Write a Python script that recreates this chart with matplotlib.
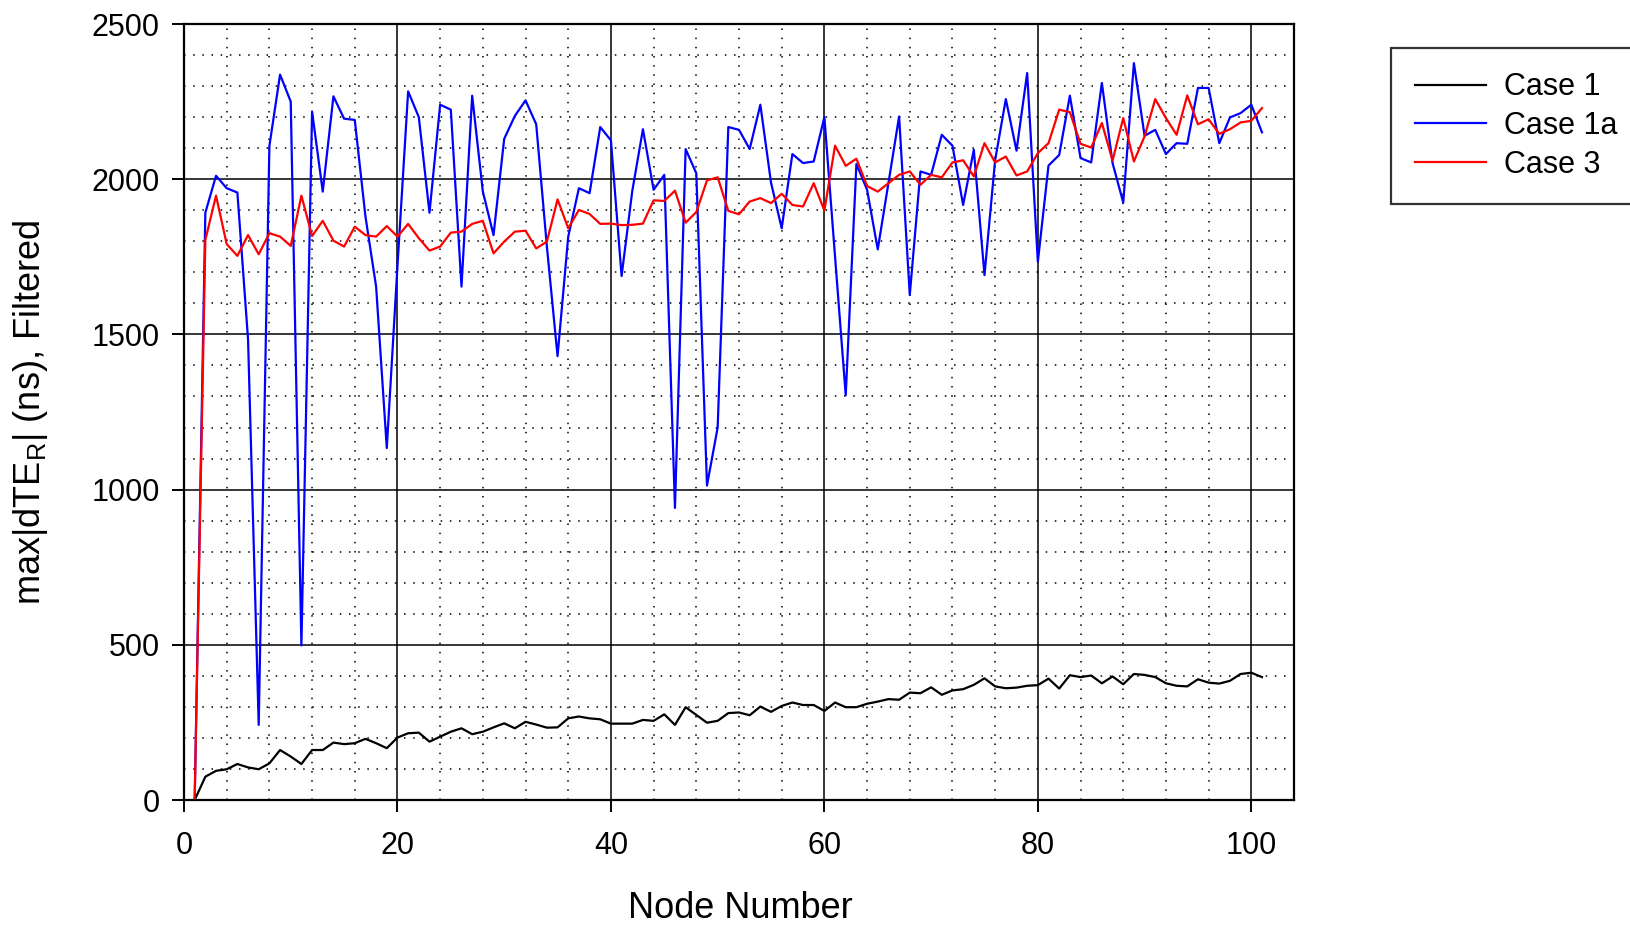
import numpy as np
import matplotlib.pyplot as plt
from matplotlib.ticker import MultipleLocator

plt.rcParams['font.family'] = ['Liberation Sans', 'DejaVu Sans']
plt.rcParams['mathtext.fontset'] = 'custom'
plt.rcParams['mathtext.rm'] = 'Liberation Sans'

nodes = np.arange(1, 102)

# Case 1 - black
case1 = [0, 75, 94, 99, 116, 105, 99, 118, 161, 140,
         116, 161, 161, 185, 180, 183, 197, 183, 167, 201,
         215, 217, 188, 204, 220, 231, 212, 220, 234, 247,
         231, 252, 243, 233, 234, 263, 269, 263, 260, 246,
         246, 246, 258, 255, 276, 242, 299, 274, 249, 255,
         280, 282, 273, 301, 284, 303, 314, 306, 306, 287,
         314, 299, 299, 310, 317, 325, 323, 346, 344, 363,
         339, 353, 357, 371, 392, 366, 360, 362, 368, 370,
         391, 359, 402, 396, 401, 376, 398, 373, 406, 403,
         396, 376, 368, 366, 389, 378, 375, 384, 406, 410,
         396]

# Case 1a - blue
case1a = [0, 1892, 2011, 1971, 1957, 1485, 242, 2107, 2337, 2250,
          498, 2218, 1960, 2267, 2195, 2191, 1880, 1654, 1134, 1720,
          2283, 2200, 1892, 2240, 2224, 1654, 2269, 1960, 1820, 2130,
          2204, 2254, 2177, 1783, 1430, 1815, 1971, 1955, 2168, 2125,
          1688, 1962, 2161, 1966, 2014, 941, 2097, 2019, 1013, 1200,
          2168, 2159, 2097, 2240, 1989, 1842, 2081, 2052, 2057, 2200,
          1750, 1304, 2049, 1966, 1774, 1987, 2202, 1627, 2025, 2014,
          2143, 2108, 1917, 2095, 1691, 2062, 2258, 2092, 2342, 1734,
          2044, 2078, 2269, 2068, 2054, 2310, 2052, 1925, 2374, 2140,
          2159, 2081, 2116, 2114, 2294, 2294, 2116, 2199, 2213, 2240,
          2151]

# Case 3 - red
case3 = [0, 1804, 1947, 1791, 1753, 1820, 1758, 1826, 1815, 1785,
         1947, 1817, 1866, 1802, 1783, 1847, 1820, 1815, 1849, 1815,
         1856, 1810, 1770, 1783, 1828, 1831, 1856, 1866, 1761, 1799,
         1831, 1834, 1777, 1799, 1935, 1842, 1901, 1888, 1856, 1857,
         1852, 1853, 1857, 1932, 1930, 1963, 1860, 1894, 1996, 2006,
         1898, 1887, 1928, 1939, 1923, 1953, 1917, 1912, 1987, 1899,
         2108, 2043, 2066, 1978, 1960, 1987, 2014, 2025, 1982, 2014,
         2006, 2054, 2061, 2009, 2116, 2054, 2073, 2012, 2025, 2084,
         2116, 2224, 2216, 2114, 2102, 2181, 2060, 2197, 2057, 2138,
         2258, 2197, 2143, 2270, 2177, 2193, 2146, 2161, 2183, 2188,
         2229]

fig = plt.figure(figsize=(16.31, 9.25), dpi=100)
ax = fig.add_axes([184/1631, 1 - 800/925, 1110/1631, 776/925])

ax.plot(nodes, case1, color='black', lw=1.6, label='Case 1')
ax.plot(nodes, case1a, color='#0000ff', lw=1.6, label='Case 1a')
ax.plot(nodes, case3, color='#ff0000', lw=1.6, label='Case 3')

ax.set_xlim(0, 104)
ax.set_ylim(0, 2500)
ax.xaxis.set_major_locator(MultipleLocator(20))
ax.xaxis.set_minor_locator(MultipleLocator(4))
ax.yaxis.set_major_locator(MultipleLocator(500))
ax.yaxis.set_minor_locator(MultipleLocator(100))

ax.grid(which='major', color='black', lw=1.1, ls='-')
ax.grid(which='minor', color='black', lw=1.1, ls=(0, (1, 5)))
ax.set_axisbelow(True)

ax.tick_params(which='major', direction='out', length=8.5, width=1.4,
               labelsize=22, color='black')
ax.tick_params(axis='x', which='major', pad=14)
ax.tick_params(axis='y', which='major', pad=9)
ax.tick_params(which='minor', length=0)
for sp in ax.spines.values():
    sp.set_linewidth(1.6)
    sp.set_color('black')

fig.text(31/1631, 1 - 412/925, r'max|dTE$_\mathregular{R}$| (ns), Filtered',
         rotation=90, ha='center', va='center', fontsize=26)
fig.text(740/1631, 1 - 908/925, 'Node Number', ha='center', va='center', fontsize=26)

leg = ax.legend(loc='upper left', bbox_to_anchor=(1391/1631, 1 - 48/925),
                bbox_transform=fig.transFigure, fontsize=22, frameon=True,
                fancybox=False, borderpad=0.8, handlelength=2.3,
                handletextpad=0.6, labelspacing=0.28, borderaxespad=0)
leg.get_frame().set_edgecolor('black')
leg.get_frame().set_linewidth(1.6)

fig.savefig('out.png', dpi=100, facecolor='white')
